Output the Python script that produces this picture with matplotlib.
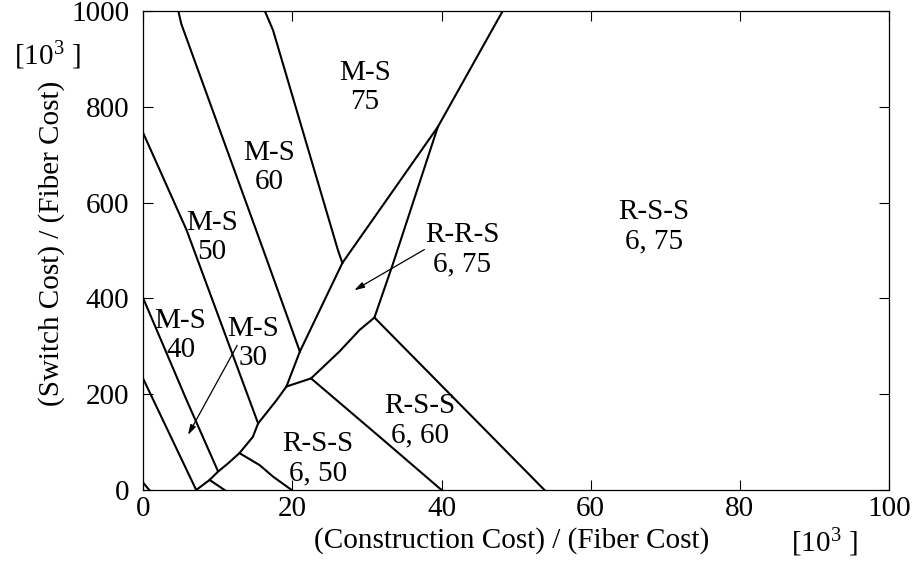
import matplotlib
matplotlib.use("Agg")
import matplotlib.pyplot as plt

plt.rcParams["font.family"] = "Liberation Serif"
plt.rcParams["mathtext.fontset"] = "custom"
plt.rcParams["mathtext.rm"] = "Liberation Serif"
plt.rcParams["mathtext.it"] = "Liberation Serif:italic"

# region boundaries, construction cost [10^3] vs switch cost [10^3]
corner_x = [0, 0.8]
corner_y = [15, 0]

ms40_left_x = [0, 7.1]
ms40_left_y = [232, 0]

ms40_right_x = [0, 5.8, 10.0]
ms40_right_y = [400, 188, 40]

ms50_right_x = [0, 5.8, 15.4]
ms50_right_y = [745, 543, 139]

ms60_left_x = [4.7, 5.1, 16.1, 21.0]
ms60_left_y = [1000, 973, 501, 289]

ms60_right_x = [16.3, 17.4, 26.1, 26.7]
ms60_right_y = [1000, 960, 501, 474]

main_chain_x = [7.1, 8.9, 10.0, 11.4, 12.9, 14.7, 15.4, 17.9, 19.2, 21.0, 26.7, 39.5, 48.2]
main_chain_y = [0, 21, 38, 56, 77, 111, 139, 188, 216, 289, 474, 758, 1000]

spur_x = [8.9, 10.9]
spur_y = [21, 0]

rss50_left_x = [12.9, 15.6, 17.4, 19.9]
rss50_left_y = [77, 52, 28, 0]

rss50_top_x = [19.2, 22.5]
rss50_top_y = [216, 233]

rss60_left_x = [22.5, 31.7, 40.0]
rss60_left_y = [233, 111, 0]

rrs_bottom_x = [22.5, 26.3, 29.0, 31.0]
rrs_bottom_y = [233, 289, 334, 360]

rss75_left_x = [31.0, 53.8]
rss75_left_y = [360, 0]

rrs_right_x = [31.0, 33.5, 39.5]
rrs_right_y = [360, 473, 758]

boundaries = [
    (corner_x, corner_y),
    (ms40_left_x, ms40_left_y),
    (ms40_right_x, ms40_right_y),
    (ms50_right_x, ms50_right_y),
    (ms60_left_x, ms60_left_y),
    (ms60_right_x, ms60_right_y),
    (main_chain_x, main_chain_y),
    (spur_x, spur_y),
    (rss50_left_x, rss50_left_y),
    (rss50_top_x, rss50_top_y),
    (rss60_left_x, rss60_left_y),
    (rrs_bottom_x, rrs_bottom_y),
    (rss75_left_x, rss75_left_y),
    (rrs_right_x, rrs_right_y),
]

region_names = ["M-S\n75", "M-S\n60", "M-S\n50", "M-S\n40", "M-S\n30",
                "R-S-S\n6, 50", "R-S-S\n6, 60", "R-R-S\n6, 75", "R-S-S\n6, 75"]
name_pos = [(29.7, 840), (16.9, 674), (9.2, 528), (5.0, 322), (14.7, 305),
            (23.4, 66), (37.1, 145), (42.8, 502), (68.5, 550)]

# arrows: (tail, head)
pointers = [((12.6, 302), (6.0, 115)), ((37.7, 502), (28.3, 417))]

x_ticks = [0, 20, 40, 60, 80, 100]
y_ticks = [0, 200, 400, 600, 800, 1000]

FS = 21

fig = plt.figure(figsize=(9.16, 5.64), dpi=100)
ax = fig.add_axes([0.1564, 0.1312, 0.8141, 0.8493])

for bx, by in boundaries:
    ax.plot(bx, by, color="black", lw=1.5, solid_joinstyle="round")

for name, (tx, ty) in zip(region_names, name_pos):
    ax.text(tx, ty, name, ha="center", va="center", fontsize=FS,
            linespacing=1.15)

for tail, head in pointers:
    ax.annotate("", xy=head, xytext=tail,
                arrowprops=dict(arrowstyle="-|>,head_length=0.6,head_width=0.18",
                                color="black", lw=0.9, shrinkA=0, shrinkB=0))

ax.set_xlim(0, 100)
ax.set_ylim(0, 1000)
ax.set_xticks(x_ticks)
ax.set_yticks(y_ticks)
ax.tick_params(direction="in", length=7, width=0.8, top=True, right=True,
               labelsize=FS, pad=10)
ax.tick_params(axis="x", pad=4)
for side in ax.spines.values():
    side.set_linewidth(0.9)

fig.text(52 / 916, 1 - 243 / 564, "(Switch Cost) / (Fiber Cost)",
         rotation=90, ha="center", va="center", fontsize=FS)
fig.text(512 / 916, 1 - 541 / 564, "(Construction Cost) / (Fiber Cost)",
         ha="center", va="center", fontsize=FS)
fig.text(824 / 916, 1 - 543 / 564, r"[10$^3$ ]", ha="center", va="center",
         fontsize=FS)
fig.text(47 / 916, 1 - 56 / 564, r"[10$^3$ ]", ha="center", va="center",
         fontsize=FS)

fig.savefig("out.png", dpi=100)
